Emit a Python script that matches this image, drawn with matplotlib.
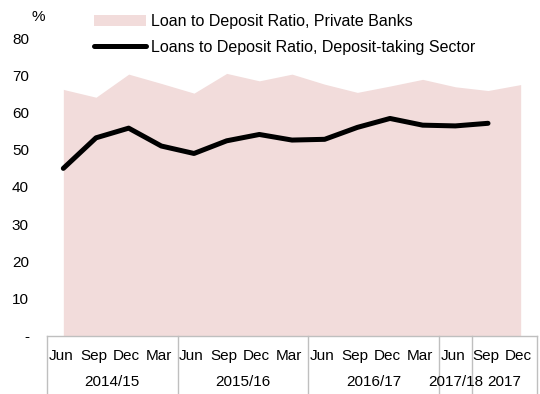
import matplotlib
matplotlib.use("Agg")
import matplotlib.pyplot as plt
from matplotlib.lines import Line2D
from matplotlib.patches import Patch

plt.rcParams['font.family'] = ['Liberation Sans', 'DejaVu Sans']

# Quarter labels and financial-year groups
quarters = ["Jun", "Sep", "Dec", "Mar", "Jun", "Sep", "Dec", "Mar",
            "Jun", "Sep", "Dec", "Mar", "Jun", "Sep", "Dec"]
groups = ["2014/15", "2015/16", "2016/17", "2017/18", "2017"]
group_sizes = [4, 4, 4, 1, 2]

# Loan to deposit ratios (%)
private_banks = [66.2, 64.1, 70.3, 67.8, 65.2, 70.5, 68.5, 70.3,
                 67.6, 65.4, 67.1, 68.9, 66.9, 65.9, 67.5]
deposit_taking = [45.0, 53.2, 55.8, 51.0, 49.0, 52.4, 54.1, 52.6,
                  52.8, 56.0, 58.4, 56.6, 56.4, 57.1]

yticks = [0, 10, 20, 30, 40, 50, 60, 70, 80]
ytick_labels = ["-", "10", "20", "30", "40", "50", "60", "70", "80"]

FS = 11
W, H = 540, 394
fig = plt.figure(figsize=(W / 100, H / 100), dpi=100)
ax = fig.add_axes([47 / W, (H - 336) / H, 490 / W, 298 / H])

x_area = list(range(len(private_banks)))
x_line = list(range(len(deposit_taking)))

ax.fill_between(x_area, private_banks, 0, color="#f2dcdb", linewidth=0)
ax.plot(x_line, deposit_taking, color="black", linewidth=3.6,
        solid_capstyle="round", solid_joinstyle="round")

ax.set_xlim(-0.5, len(quarters) - 0.5)
ax.set_ylim(0, 80)
ax.set_yticks(yticks)
ax.set_yticklabels(ytick_labels, fontsize=FS)
ax.tick_params(axis="y", length=0, pad=13)
ax.set_xticks([])
for s in ax.spines.values():
    s.set_visible(False)

# Two-level category axis drawn below the plot
tr = ax.get_xaxis_transform()
edge_color = "#bfbfbf"
ax.plot([-0.5, len(quarters) - 0.5], [0, 0], color=edge_color, lw=1,
        transform=tr, clip_on=False)
for i, q in enumerate(quarters):
    ax.text(i - 0.08, -0.068, q, transform=tr, ha="center", va="center",
            fontsize=FS, color="black", clip_on=False)
start = 0
bounds = [-0.5]
for g, n in zip(groups, group_sizes):
    centre = start + (n - 1) / 2
    ax.text(centre, -0.154, g, transform=tr, ha="center", va="center",
            fontsize=FS, color="black", clip_on=False)
    start += n
    bounds.append(start - 0.5)
for b in bounds:
    ax.plot([b, b], [0, -0.25], color=edge_color, lw=1,
            transform=tr, clip_on=False)

fig.text(38 / W, 1 - 17 / H, "%", ha="center", va="center", fontsize=FS)

handles = [Patch(facecolor="#f2dcdb", edgecolor="none"),
           Line2D([], [], color="black", lw=3.6, solid_capstyle="round")]
labels = ["Loan to Deposit Ratio, Private Banks",
          "Loans to Deposit Ratio, Deposit-taking Sector"]
fig.legend(handles, labels, loc="upper left",
           bbox_to_anchor=(94 / W, 1 - 14 / H), frameon=False,
           fontsize=11.5, handlelength=3.25, handletextpad=0.3,
           labelspacing=0.68, borderpad=0, borderaxespad=0)

fig.savefig("out.png", dpi=100)
